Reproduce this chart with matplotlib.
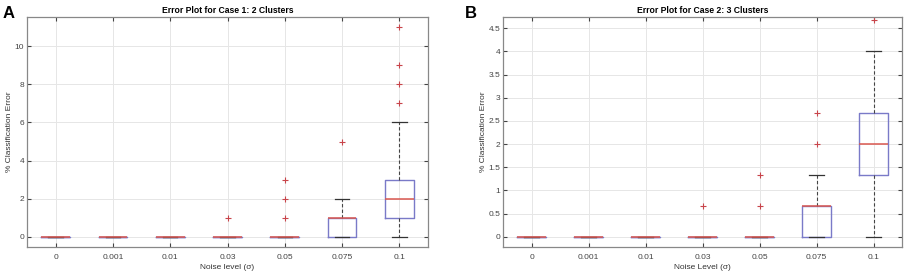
import matplotlib.pyplot as plt

plt.rcParams['font.family'] = ['Liberation Sans', 'DejaVu Sans']

# niveles de ruido (etiquetas del eje x)
niveles = ["0", "0.001", "0.01", "0.03", "0.05", "0.075", "0.1"]

# Caso 1: 2 clusters  (q1, mediana, q3, bigote inf, bigote sup, atipicos)
q1_a = [0, 0, 0, 0, 0, 0, 1]
med_a = [0, 0, 0, 0, 0, 1, 2]
q3_a = [0, 0, 0, 0, 0, 1, 3]
wlo_a = [0, 0, 0, 0, 0, 0, 0]
whi_a = [0, 0, 0, 0, 0, 2, 6]
out_a = [[], [], [], [1], [1, 2, 3], [5], [7, 8, 9, 11]]

# Caso 2: 3 clusters
q1_b = [0, 0, 0, 0, 0, 0, 1.333]
med_b = [0, 0, 0, 0, 0, 0.667, 2]
q3_b = [0, 0, 0, 0, 0, 0.667, 2.667]
wlo_b = [0, 0, 0, 0, 0, 0, 0]
whi_b = [0, 0, 0, 0, 0, 1.333, 4]
out_b = [[], [], [], [0.667], [0.667, 1.333], [2, 2.667], [4.667]]


def armar_stats(q1, med, q3, wlo, whi, out):
    stats = []
    for i in range(len(q1)):
        stats.append(dict(q1=q1[i], med=med[i], q3=q3[i],
                          whislo=wlo[i], whishi=whi[i], fliers=out[i]))
    return stats


def dibujar(ax, stats, titulo, xlabel, ylim, yticks, yticklabels):
    ax.bxp(stats, positions=range(1, len(stats) + 1), widths=0.5,
           boxprops=dict(color="#7a7ac8", linewidth=1.0),
           medianprops=dict(color="#d9574f", linewidth=1.1, zorder=4),
           whiskerprops=dict(color="#444444", linestyle=(0, (3, 2)), linewidth=0.8),
           capprops=dict(color="#333333", linewidth=0.9),
           flierprops=dict(marker="+", markeredgecolor="#c8444a", markersize=5,
                           markeredgewidth=0.8),
           capwidths=0.25)
    ax.set_xlim(0.5, 7.5)
    ax.set_ylim(*ylim)
    ax.set_xticks(range(1, 8))
    ax.set_xticklabels(niveles)
    ax.set_yticks(yticks)
    ax.set_yticklabels(yticklabels)
    ax.grid(True, color="#e6e6e6", linewidth=0.7)
    ax.set_axisbelow(True)
    ax.tick_params(direction="in", length=3, labelsize=6, colors="#444444",
                   top=True, right=True)
    ax.tick_params(axis="x", pad=5)
    ax.tick_params(axis="y", pad=2)
    for s in ax.spines.values():
        s.set_color("#888888")
        s.set_linewidth(0.9)
    ax.set_title(titulo, fontsize=6.2, fontweight="bold", pad=3)
    ax.set_xlabel(xlabel, fontsize=6, color="#333333", labelpad=2)
    ax.set_ylabel("% Classification Error", fontsize=6, color="#333333", labelpad=1)


fig = plt.figure(figsize=(9.08, 2.8), dpi=100)
ax1 = fig.add_axes([27 / 908, 33 / 280, 401 / 908, 230 / 280])
ax2 = fig.add_axes([503 / 908, 33 / 280, 399 / 908, 230 / 280])

dibujar(ax1, armar_stats(q1_a, med_a, q3_a, wlo_a, whi_a, out_a),
        "Error Plot for Case 1: 2 Clusters", "Noise level (\u03c3)",
        (-0.55, 11.55), [0, 2, 4, 6, 8, 10], ["0", "2", "4", "6", "8", "10"])
dibujar(ax2, armar_stats(q1_b, med_b, q3_b, wlo_b, whi_b, out_b),
        "Error Plot for Case 2: 3 Clusters", "Noise Level (\u03c3)",
        (-0.22, 4.74), [0, 0.5, 1, 1.5, 2, 2.5, 3, 3.5, 4, 4.5],
        ["0", "0.5", "1", "1.5", "2", "2.5", "3", "3.5", "4", "4.5"])

# letras de panel
fig.text(3 / 908, 1 - 18 / 280, "A", fontsize=12, fontweight="bold", ha="left", va="baseline")
fig.text(465 / 908, 1 - 18 / 280, "B", fontsize=12, fontweight="bold", ha="left", va="baseline")

fig.savefig("out.png", dpi=100)
